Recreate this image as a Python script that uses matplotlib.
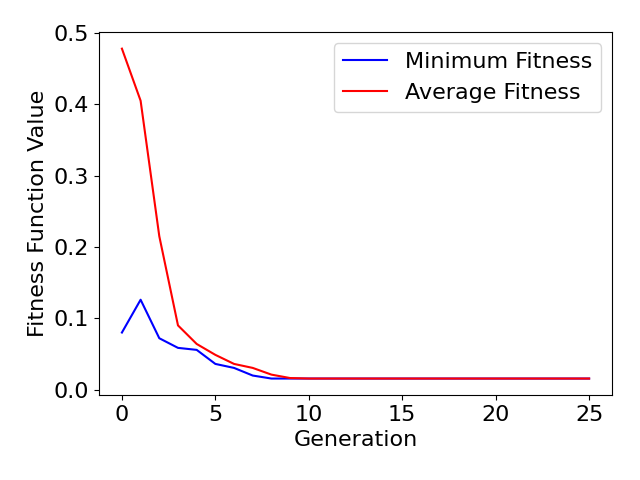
import matplotlib
matplotlib.use("Agg")
import matplotlib.pyplot as plt

generations = list(range(26))
min_fitness = [0.080, 0.126, 0.072, 0.0585, 0.0557, 0.036, 0.0304, 0.0197, 0.0155] + [0.0155] * 17
avg_fitness = [0.478, 0.405, 0.215, 0.090, 0.064, 0.0487, 0.036, 0.0304, 0.021, 0.0162] + [0.0155] * 16

plt.rcParams['font.size'] = 16

fig, ax = plt.subplots(figsize=(6.4, 4.8), dpi=100)
ax.plot(generations, min_fitness, color='blue', label='Minimum Fitness')
ax.plot(generations, avg_fitness, color='red', label='Average Fitness')
ax.set_xlabel('Generation')
ax.set_ylabel('Fitness Function Value')
ax.set_yticks([0.0, 0.1, 0.2, 0.3, 0.4, 0.5])
ax.legend(loc='upper right')
fig.subplots_adjust(left=0.154, right=0.957, top=0.933, bottom=0.177)
plt.savefig('out.png')
